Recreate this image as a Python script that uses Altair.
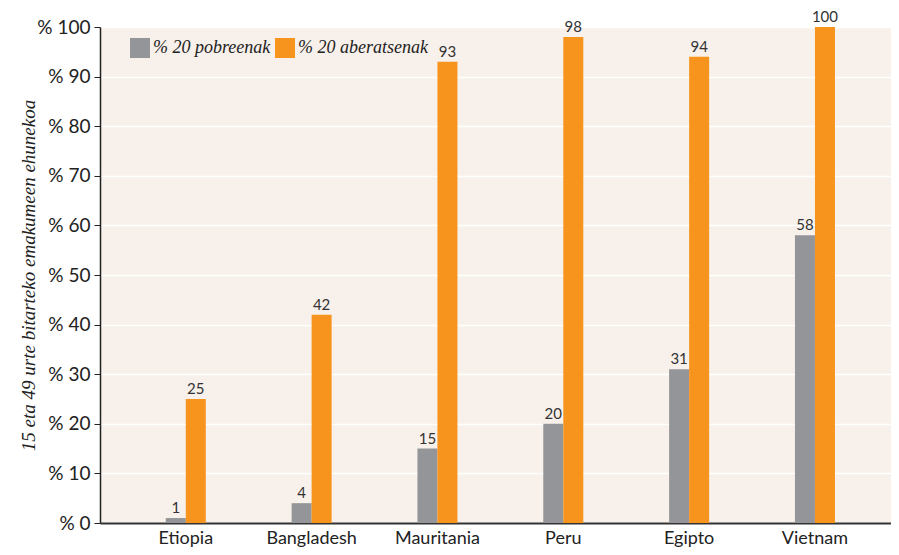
import altair as alt
import pandas as pd

countries = ["Etiopia", "Bangladesh", "Mauritania", "Peru", "Egipto", "Vietnam"]
groups = ["% 20 pobreenak", "% 20 aberatsenak"]
poorest = [1, 4, 15, 20, 31, 58]
richest = [25, 42, 93, 98, 94, 100]
colors = ["#939598", "#f7941d"]

rows = []
for c, p, r in zip(countries, poorest, richest):
    rows.append({"country": c, "group": groups[0], "value": p})
    rows.append({"country": c, "group": groups[1], "value": r})
df = pd.DataFrame(rows)

x = alt.X("country:N", sort=countries, title=None,
          scale=alt.Scale(paddingInner=0.682, paddingOuter=0.484, align=0.54),
          axis=alt.Axis(labelAngle=0, ticks=False, domainColor="#333333", domainWidth=2,
                        labelFont="Lato", labelFontSize=18, labelColor="#222222", labelPadding=6))
xo = alt.XOffset("group:N", sort=groups, scale=alt.Scale(paddingInner=0, paddingOuter=0))
y = alt.Y("value:Q", title="15 eta 49 urte bitarteko emakumeen ehunekoa",
          scale=alt.Scale(domain=[0, 100], nice=False),
          axis=alt.Axis(values=list(range(0, 101, 10)), labelExpr="'% ' + datum.value",
                        labelFont="Lato", labelFontSize=19, labelColor="#222222", labelPadding=4,
                        tickSize=6, tickColor="#222222", domainColor="#222222", domainWidth=1.5,
                        gridColor="#ffffff", gridWidth=1.5,
                        titleFont="Liberation Serif", titleFontStyle="italic", titleFontWeight="normal",
                        titleFontSize=19, titleColor="#222222", titlePadding=-2))

bars = alt.Chart(df).mark_bar().encode(
    x=x, xOffset=xo, y=y,
    color=alt.Color("group:N", sort=groups, scale=alt.Scale(domain=groups, range=colors),
                    legend=alt.Legend(title=None, orient="none", legendX=30, legendY=11,
                                      direction="horizontal", symbolType="square", symbolSize=400,
                                      symbolStrokeWidth=0, symbolOpacity=1,
                                      labelFont="Liberation Serif", labelFontStyle="italic",
                                      labelFontSize=18, labelColor="#222222", labelOffset=3,
                                      columnPadding=4))
)

labels = alt.Chart(df).mark_text(baseline="bottom", dy=-2, font="Lato", fontSize=15, color="#333333").encode(
    x=x, xOffset=xo, y=y, text="value:Q"
)

chart = (bars + labels).properties(
    width=791, height=496,
    padding={"left": 92, "top": 19, "right": 0, "bottom": 24},
    autosize=alt.AutoSizeParams(type="none"),
).configure_view(fill="#f8f0ea", stroke=None).configure_axisY(grid=True).configure_axisX(grid=False)

chart.save("out.html", embed_options={"renderer": "svg", "actions": False})
